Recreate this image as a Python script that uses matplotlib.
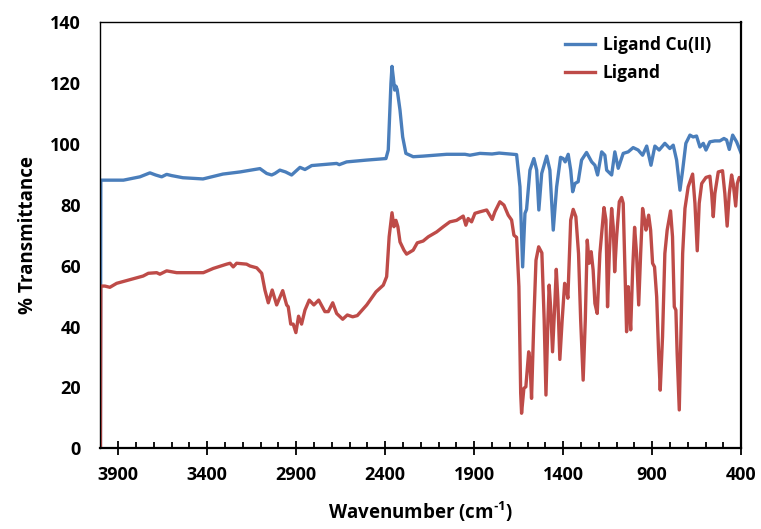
import numpy as np
import matplotlib
matplotlib.use("Agg")
import matplotlib.pyplot as plt
from matplotlib.ticker import FixedLocator

plt.rcParams["font.family"] = ["Open Sans", "DejaVu Sans"]
plt.rcParams["font.weight"] = "bold"
plt.rcParams["mathtext.fontset"] = "custom"
plt.rcParams["mathtext.rm"] = "Open Sans:bold"
plt.rcParams["mathtext.bf"] = "Open Sans:bold"

# ---------------------------------------------------------------------------
# Spectra (wavenumber in cm-1, % transmittance)
# ---------------------------------------------------------------------------
wn_cu = [4000, 3998, 3871, 3778, 3722, 3690, 3656, 3628, 3600, 3537, 3424, 3312,
         3216, 3104, 3066, 3038, 3020, 2992, 2960, 2926, 2879, 2851, 2813, 2673,
         2658, 2617, 2504, 2396, 2383, 2368, 2362, 2355, 2347, 2340, 2333, 2317,
         2302, 2284, 2243, 2187, 2055, 1952, 1924, 1868, 1800, 1760, 1662, 1643,
         1628, 1615, 1606, 1587, 1565, 1549, 1537, 1521, 1493, 1475, 1456, 1437,
         1415, 1400, 1389, 1372, 1358, 1347, 1334, 1316, 1297, 1269, 1240, 1222,
         1207, 1184, 1166, 1156, 1128, 1110, 1091, 1063, 1035, 1007, 979, 954,
         931, 907, 885, 861, 829, 801, 782, 763, 744, 729, 711, 688, 670, 651,
         632, 613, 598, 576, 548, 520, 497, 482, 467, 448, 426, 400]
t_cu = [0, 88.1, 88.1, 89.2, 90.5, 89.8, 89.2, 90.0, 89.6, 88.9, 88.5, 90.1,
        90.8, 91.9, 90.3, 89.8, 90.3, 91.4, 90.8, 89.8, 92.3, 91.6, 92.9, 93.6,
        93.2, 94.1, 94.7, 95.2, 98.0, 119.9, 125.5, 122.0, 117.7, 119.0, 117.9, 111.1,
        102.3, 96.9, 95.8, 96.0, 96.6, 96.6, 96.3, 96.9, 96.7, 97.0, 96.5, 85.9,
        59.6, 77.2, 78.5, 91.4, 95.2, 91.4, 78.3, 90.3, 96.0, 91.4, 71.7, 85.9,
        95.6, 95.2, 94.1, 96.6, 91.4, 84.3, 87.0, 87.6, 94.7, 97.2, 94.1, 93.0,
        89.8, 97.4, 96.3, 91.4, 89.8, 97.4, 92.0, 96.9, 97.4, 98.8, 98.0, 96.3,
        99.3, 93.0, 99.3, 98.0, 100.2, 98.5, 99.6, 94.7, 84.8, 91.4, 100.2, 102.9, 102.3, 102.6,
        99.0, 100.2, 98.0, 100.7, 101.0, 101.0, 101.8, 101.3, 98.2, 102.9, 100.7, 96.9]

wn_lig = [4000, 3998, 3975, 3947, 3909, 3797, 3760, 3731, 3684, 3666, 3628, 3572,
          3422, 3366, 3291, 3272, 3254, 3235, 3179, 3160, 3122, 3094, 3076, 3057,
          3035, 3010, 2976, 2954, 2945, 2931, 2917, 2902, 2887, 2870, 2851, 2827,
          2801, 2774, 2739, 2720, 2695, 2673, 2639, 2613, 2583, 2557, 2504, 2452,
          2411, 2392, 2378, 2362, 2351, 2340, 2329, 2317, 2295, 2280, 2243, 2220,
          2187, 2158, 2111, 2074, 2037, 1999, 1962, 1947, 1934, 1915, 1896, 1868,
          1830, 1799, 1784, 1756, 1733, 1709, 1690, 1677, 1662, 1649, 1639, 1634,
          1621, 1610, 1594, 1587, 1578, 1565, 1553, 1538, 1520, 1507, 1497, 1486,
          1479, 1471, 1460, 1448, 1439, 1430, 1419, 1406, 1392, 1381, 1374, 1358,
          1344, 1329, 1314, 1302, 1288, 1276, 1265, 1254, 1243, 1232, 1222, 1209,
          1194, 1171, 1160, 1151, 1141, 1128, 1119, 1111, 1100, 1085, 1072, 1063,
          1053, 1044, 1035, 1029, 1021, 1010, 999, 988, 976, 965, 954, 943,
          935, 920, 909, 898, 887, 875, 864, 855, 842, 829, 816, 797,
          786, 776, 767, 760, 748, 739, 729, 716, 698, 673, 660, 647,
          636, 622, 598, 576, 566, 557, 548, 529, 505, 492, 479, 467,
          454, 445, 431, 422, 411, 400]
t_lig = [0, 53.3, 53.3, 52.9, 54.2, 56.0, 56.6, 57.5, 57.7, 57.2, 58.3, 57.7,
         57.7, 59.1, 60.5, 60.8, 59.6, 60.8, 60.5, 59.9, 59.3, 57.5, 52.0, 47.8,
         52.0, 47.1, 51.8, 47.1, 46.5, 40.8, 40.8, 38.0, 43.4, 40.8, 45.4, 48.7,
         47.1, 48.7, 44.9, 44.9, 47.8, 44.3, 42.4, 43.8, 43.2, 43.6, 47.1, 51.4,
         53.6, 56.4, 69.5, 77.4, 72.8, 74.9, 72.8, 67.8, 65.1, 63.8, 65.1, 67.5,
         68.1, 69.5, 71.1, 72.8, 74.4, 74.9, 76.3, 73.3, 75.5, 74.4, 77.2, 77.7,
         78.3, 75.2, 77.7, 81.0, 79.9, 76.6, 75.0, 70.0, 69.3, 53.1, 18.1, 11.5,
         19.7, 20.2, 31.7, 29.0, 16.4, 42.1, 61.8, 66.2, 64.2, 42.1, 17.5, 42.1,
         53.6, 46.5, 31.7, 46.5, 58.8, 48.7, 29.2, 42.1, 54.2, 52.0, 49.3, 75.0,
         78.5, 76.1, 64.0, 42.1, 22.4, 42.1, 68.4, 60.8, 64.6, 58.6, 47.6, 44.3,
         64.0, 79.1, 75.0, 46.5, 64.0, 78.8, 72.8, 58.0, 69.5, 81.0, 82.4, 80.5,
         58.6, 38.3, 53.1, 46.5, 38.9, 58.6, 72.6, 64.0, 47.1, 64.0, 78.8, 75.0,
         71.7, 76.6, 71.7, 60.8, 59.6, 49.8, 31.2, 19.1, 36.7, 64.0, 71.7, 78.0,
         69.5, 46.5, 45.4, 31.2, 12.6, 36.7, 64.0, 78.8, 85.9, 90.1, 80.5, 64.9,
         80.5, 87.0, 89.0, 89.4, 83.7, 76.1, 83.7, 90.8, 91.2, 83.7, 73.0, 83.7,
         89.8, 87.0, 79.6, 87.0, 89.0, 88.3]

x_major = [3900, 3400, 2900, 2400, 1900, 1400, 900, 400]
y_major = [0, 20, 40, 60, 80, 100, 120, 140]

BLUE = "#4A7EBB"
RED = "#BE4B48"


def main():
    fig = plt.figure(figsize=(7.61, 5.29), dpi=100)
    ax = fig.add_axes([0.132, 0.1526, 0.842, 0.8054])

    ax.plot(wn_cu, t_cu, color=BLUE, lw=2.4, label="Ligand Cu(II)",
            solid_joinstyle="round")
    ax.plot(wn_lig, t_lig, color=RED, lw=2.4, label="Ligand",
            solid_joinstyle="round")

    ax.set_xlim(4000, 400)
    ax.set_ylim(0, 140)

    ax.xaxis.set_major_locator(FixedLocator(x_major))
    minor = [v for v in range(500, 4000, 100) if v not in x_major]
    ax.xaxis.set_minor_locator(FixedLocator(minor))
    ax.yaxis.set_major_locator(FixedLocator(y_major))

    ax.tick_params(axis="x", which="major", direction="inout", length=10,
                   width=1.3, labelsize=13, pad=8)
    ax.tick_params(axis="x", which="minor", direction="in", length=4,
                   width=1.3)
    ax.tick_params(axis="y", which="major", length=0, labelsize=13, pad=14)
    for lab in ax.get_xticklabels() + ax.get_yticklabels():
        lab.set_fontweight("bold")

    ax.spines["bottom"].set_linewidth(1.6)
    ax.spines["left"].set_linewidth(1.0)
    ax.spines["top"].set_linewidth(1.0)
    ax.spines["right"].set_linewidth(1.6)
    for s in ax.spines.values():
        s.set_color("black")

    ax.set_xlabel("Wavenumber (cm$^{\\mathregular{\u2010}1}$)", fontsize=13.5,
                  fontweight="bold", labelpad=11)
    ax.set_ylabel("% Transmittance", fontsize=13.5, fontweight="bold",
                  labelpad=9)

    ax.legend(loc="upper left", bbox_to_anchor=(0.7, 1.005), frameon=False,
              handlelength=1.75, handletextpad=0.45,
              labelspacing=0.6, prop={"weight": "bold", "size": 12.5})

    fig.savefig("out.png", dpi=100)
    plt.close(fig)


if __name__ == "__main__":
    main()
